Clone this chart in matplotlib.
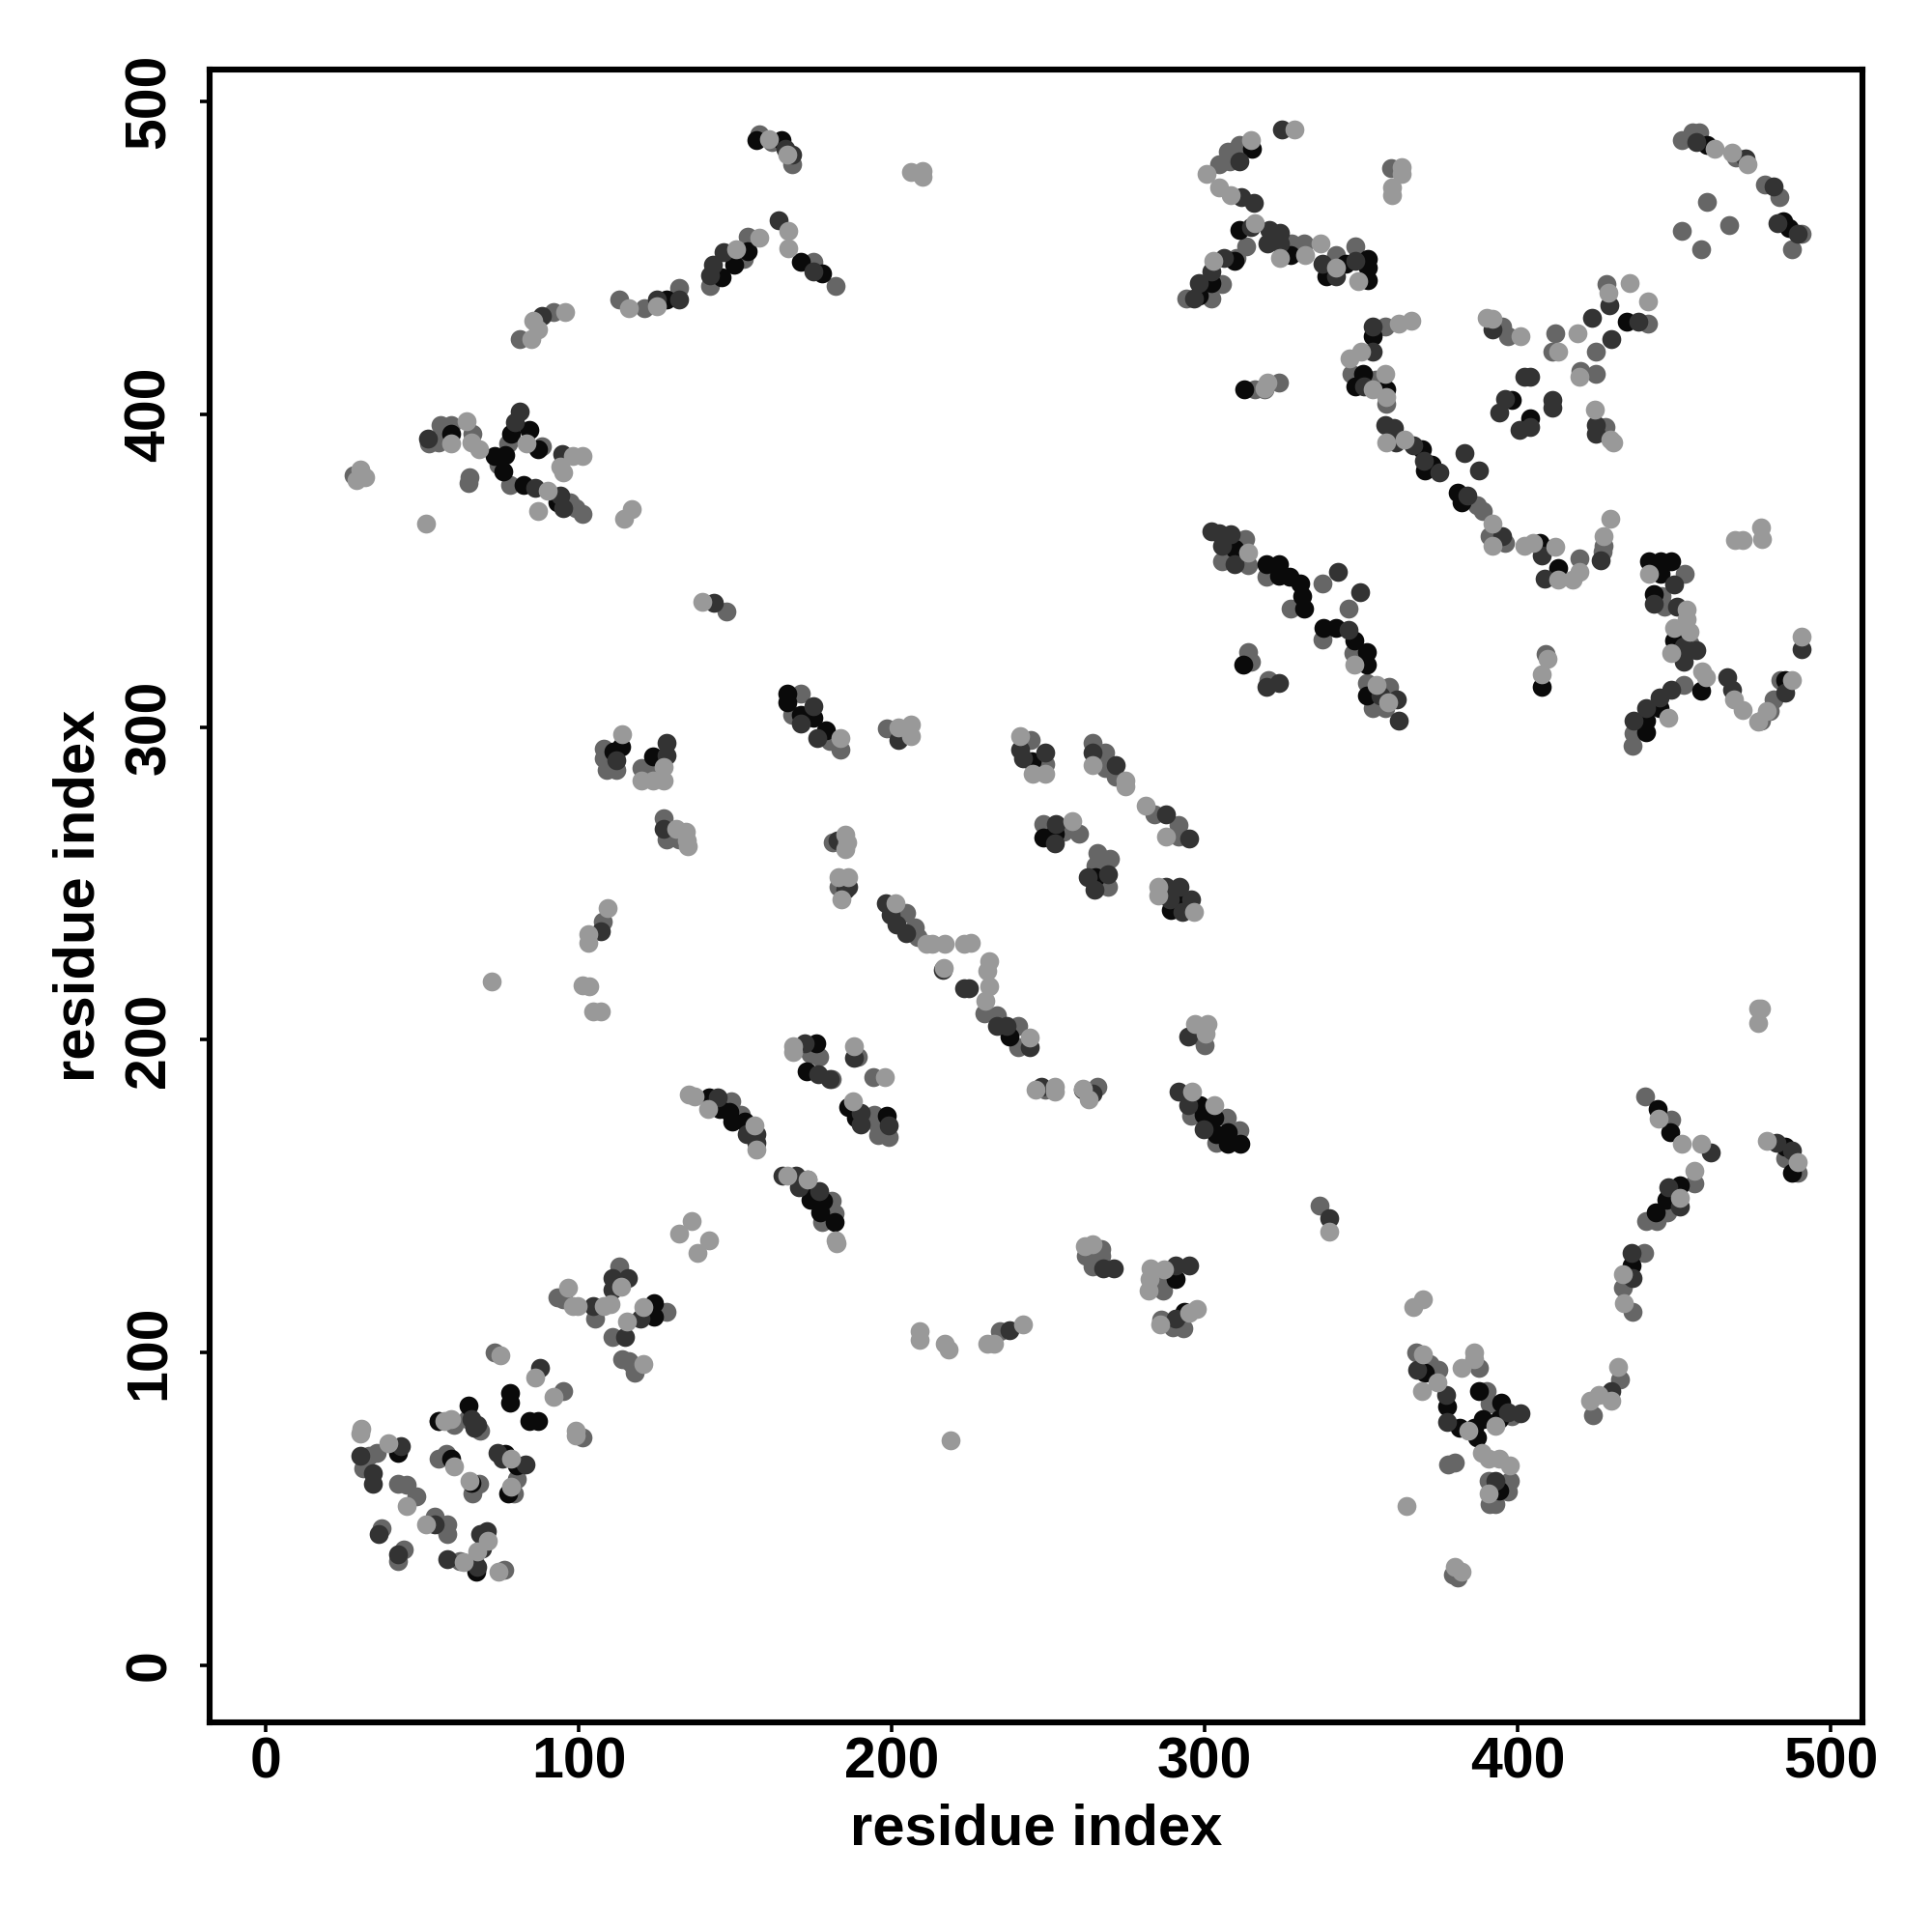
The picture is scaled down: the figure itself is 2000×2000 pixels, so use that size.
import matplotlib
matplotlib.use("Agg")
import matplotlib.pyplot as plt

# contacts as (residue i, residue j), one list per grey level
light = [(30.5,75.8),(30,74),(39,71),(45,51),(51,45),(63,33),(67.5,36.4),(71,40),(74.4,30),(57,78),(59,78.7),
    (60,63.6),(65,59),(78.4,66),(78.4,57),(86,92),(92,86),(75,99),(99,75),(99,73.4),(96.5,120.7),(98,115),(99.6,115),
    (108,115),(110,115.5),(113.4,121),(115.4,110),(120.7,114.6),(120.7,96.5),(132,138),(136,142),(138,132),(141.7,136),
    (135,182.5),(137,182),(141.3,178),(156,172.6),(156.7,165),(166.5,156.5),(173,155.5),(182,136),(182.3,135),
    (168.5,198),(168.5,196),(187.8,198),(197.7,188),(187.6,180.5),(72,218.7),(101,217.5),(103.4,217),(104.4,209),(107,209),
    (209,107),(209,104),(217,103),(218,101),(218.8,72),(230.6,222),(231,217),(230,212.6),(244,200.8),(246,184),(252,185),
    (252,183.5),(261,184.5),(263,181),(296,183.5),(302.9,179),(297,205),(301,205),(300.3,202),(339.9,138.8),(261.7,134),
    (264,134.8),(282.8,127),(287,126.6),(282.4,123.6),(282,119.7),(297.6,114),(285.7,109),(295,112.6),(232.6,102.8),
    (230.6,103),(241.8,109),(366.7,114.6),(369.6,117),(364.5,51),(380,31.5),(382,30),(369.7,99.4),(369.4,87.6),(374.4,90.5),
    (384.3,75),(393,76.7),(382,95),(386,100),(386,98),(388.7,68),(390.7,66),(394,66),(397.6,64),(390.7,55),(423,84.6),
    (426,86.6),(430,84.6),(432,95.5),(433.8,115.7),(433.5,125),(452,149.6),(456.5,158),(445,174.8),(452.6,166.7),
    (458.5,166.7),(476.8,210),(477.8,210),(477,205.5),(479.7,167.7),(489.5,161),(29,379),(30,382.4),(31.5,380),(51,365),
    (59,390.7),(64,397.8),(65.6,391),(68,388.7),(83.3,390.7),(94,383.2),(95,381.4),(98,386.8),(101,386.8),(90,375.4),
    (87,369),(114.4,366.5),(117,369.8),(139.4,340),(84.7,424),(85.3,430),(87,427),(95.5,432.7),(116,433.8),(124.8,434.4),
    (157.5,456.5),(167,458.6),(167,453),(150.3,452.7),(160.7,488),(166.6,483),(206,477.4),(209.7,477.7),(209.7,475.8),
    (113.8,297.8),(127,287.3),(119.8,283),(123.7,282.8),(127,282.8),(131,267.6),(134,266.6),(134.5,263.7),(134.9,262),
    (185,265.7),(185.7,263),(185,261),(183,252),(186,252),(184,245),(183.7,296.4),(202,300),(206,300.7),(206,297.2),(109,242),
    (103,233.8),(103,231),(201,243.6),(211,230.8),(213,230.8),(217,230.8),(223,230.8),(225.3,231),(231,225),(216.5,223),
    (241,297),(245,285),(249,285),(264,288),(274.5,282.8),(274.5,281),(281,275),(287.7,265),(257.6,270),(285,249),(285,246),
    (296.6,241),(328.8,491),(314.7,487.6),(300.5,477),(304.5,472.4),(308.4,470),(316,461),(302.6,449),(324,450),(332,450.8),
    (337,454.7),(341.9,446.8),(349,442.5),(363,479),(363,477),(359.8,472.4),(359.8,470),(366,430),(362,429),(350,420),
    (346.3,418),(357.6,413),(353.7,408),(358,405.5),(319,408.4),(320,410),(358,391),(364,392),(392,365),(392,358),(402,358),
    (405,359),(412,357.5),(413,347),(417.7,347),(419.6,349.6),(427.4,361),(429.5,366.7),(390,430.7),(392,430.5),(401,425),
    (419,426),(413,420),(419.6,412),(424.6,401.5),(430.5,391),(429.5,392),(429,439),(435.7,442),(441.6,436),(463,485),
    (468.5,483.6),(473.4,480),(313.7,355.9),(347.7,320),(355,313.5),(358.6,308),(409.6,321.8),(407.8,317),(469.5,359.8),
    (472,359.8),(477.8,363.7),(478.2,360),(442,349),(454,337.5),(454,334.6),(450,331.7),(455,330.6),(449,323.7),(459,317.8),
    (460.1,315.9),(448,303),(469,309),(472,305.6),(476.8,301.7),(479.7,305),(487.6,315),(490.6,329)]

mid = [(33,67),(35.4,68),(31,63),(42,58),(45,57.7),(48,54),(37,44),(42,33.5),(44,37),(54,47.6),(55,45),(58,45),(58,42),
    (62,33.5),(66.5,33.5),(76,30.5),(55,78),(60,77),(64.5,78.7),(68.5,75),(55,66),(57.7,67.5),(66,55),(68,58),(79.3,55),
    (80,59.5),(95,87.6),(73,100),(101,73),(93,117.7),(95,117),(105,111),(113,127.5),(110.8,105),(128,113),(113.8,98),
    (115.8,97.4),(117.7,93.5),(117.3,96),(148.6,180.5),(151.8,176),(173,155.5),(180.7,148.6),(181.7,144.7),(177.8,141.7),
    (174,195.5),(176.8,194.6),(180.7,187.6),(189,194.6),(194,188),(194.5,176),(195.5,172.6),(195.5,169.5),(199,169),
    (229.6,208.6),(233.6,208),(240.5,204.6),(240.5,197.6),(249,184),(265.7,185),(295.6,175.6),(307,175),(303.6,167),
    (311,171),(296.6,201.7),(300,198.4),(336.7,147),(267,133),(262,131),(267,131),(264,127.5),(286.7,123.6),(286.7,119.7),
    (286,110.6),(289.7,108),(293,107.7),(234.5,107),(379.4,29),(380.7,28),(367.5,100),(371.8,96.5),(374.8,94.5),(390,87.6),
    (391,83.6),(398,79.7),(387.7,95),(397.4,59),(390.7,59),(397,55.7),(391,51.6),(393,51.7),(377.7,64.4),(380,65),(424,80),
    (432.8,91.5),(436.6,113),(433.5,120.7),(440.4,131.8),(440.9,142),(444.3,142),(447.8,145),(456.5,154),(440.7,182),
    (449,174.6),(489.5,157.5),(485.6,162),(28,380.5),(52,390.7),(55.7,396.6),(55,391),(59,396.6),(66,393.7),(65,380),
    (64.6,378),(77.4,390.7),(74.4,383.8),(78,377.3),(88,389.7),(97,372),(99,370),(101,368),(147,337),(81,424),(91.8,432.7),
    (113,436.8),(121,433.8),(132,440.5),(142,441),(152.8,449.8),(154,456.7),(175,448.8),(182,441),(157.5,489.6),(161.7,487),
    (168,480),(108,293),(108,290),(108.9,286.4),(111.9,286.4),(110.3,287.3),(119.8,287),(124,286.4),(127,271),(128,264),
    (132,264),(181,263),(183,249),(171,310.6),(168,304),(180,295.6),(183.7,292.8),(198.5,299.7),(107.6,237.7),(204.4,240.6),
    (207.4,236),(208.4,233),(244.4,296),(249,288.3),(264,295),(268,292),(268,287),(271.6,284),(283.8,272),(291.6,268.6),
    (291.6,265),(248.3,269),(255,266.6),(259.8,266),(265.7,259.7),(269.6,258),(265,255.8),(269,249),(311,486),(308,481),
    (304.5,480),(307.4,484),(313.3,453.7),(310,450),(305.5,441.5),(302,437),(294,437),(327.8,454.7),(331.6,454.7),
    (341.9,450.8),(348,453.7),(359.6,478.7),(357.6,428),(347,413),(354.7,411),(358,403.5),(316,408),(319,408),(323.6,410),
    (387,371),(389,369),(391,361),(396.1,359),(419.6,354),(427,356),(427.4,358),(395,428),(397,425),(412,426),(425,420),
    (411,420),(420,414),(425,413),(428,396),(428.5,441.5),(441.7,429),(452.6,487.8),(456,490),(458,490),(469.8,482),
    (479,473.4),(483.6,469.5),(490.6,457.7),(487.6,452.7),(460.6,467.9),(467.5,460.6),(452.6,458.6),(458.5,452.7),(313,360),
    (305.5,353),(313.9,351.7),(319.6,348),(327.5,338),(337.5,346),(345.8,338),(337.5,328),(347.5,323.7),(313.7,324),
    (314.7,320.8),(320.2,315),(351.7,314),(359,313),(353.7,306),(357.6,306),(409,323.4),(453.5,349),(446,342),(447,338.5),
    (455,326.7),(453,313.6),(437,298),(436.7,294),(477.8,302),(481.7,309),(480.7,305),(483.9,315)]

dark = [(30,67),(43,70),(34,61.6),(34,58),(36,42),(42,35.5),(54,45),(58,34),(67.5,31.5),(69,37.4),(68.5,42),(70.5,43),
    (65.6,78.7),(66.5,76),(67.5,77),(74,68),(75.4,66),(83,64.4),(87.6,95),(104.5,115),(110.8,124),(115.7,124),(110.8,120),
    (114.8,105),(119.7,111),(144.3,181.7),(156.7,170),(153.5,170),(156.7,167),(165,156.5),(169.5,156.5),(170.3,153),
    (176.8,151.6),(172,199),(176.4,189),(180.3,187.4),(188,194.3),(190,176.6),(190,173),(199,172.6),(224.7,216.5),(233.6,204.6),
    (236.6,204.6),(244,197.6),(247.7,185),(264,182.7),(261,184),(291.7,183.5),(294.6,179),(299.5,171.4),(294.6,201),
    (339.9,143),(267.4,127),(271,127),(290.7,128),(295,128),(290.7,111),(237.5,107.3),(368,94.5),(377,86.6),(377.4,77.7),
    (397,81),(400.9,80.7),(393,59),(430,87.6),(436.6,124),(436.4,131.8),(448.2,153),(451.8,146.6),(461.6,164),(482.6,167),
    (487.6,164.6),(51.8,392.3),(81,401),(79.4,397.6),(86,376.5),(94.7,387.4),(94,374),(95,370),(143,339.7),(88,431.5),
    (124.8,436.6),(132,436.6),(141.8,444.5),(142.8,447.8),(146.3,451.8),(163.8,462),(175,445.8),(166,485),(168,483),
    (111.9,289.3),(128,295),(128,291),(127.2,267.6),(182.6,263.7),(185,248),(186,249),(171,301),(175,306.6),(176,296.6),(202,296),
    (107,234.7),(198,243.6),(199.5,240),(201.5,237),(204.4,234),(216.2,222.5),(223,216.6),(241,292.7),(249,292),(242,290),
    (264,292),(271.6,287.9),(287.7,272),(295,264.3),(252.3,269),(252,262.7),(269,253),(262.5,252),(264.7,248),(287.6,249),
    (292,249),(288.7,245),(295.6,245),(292.7,241),(324.6,491),(311,481),(311.8,469.5),(315.7,467.5),(314.9,460),(320.6,459),
    (324,458),(306,450),(302,445.8),(298,442),(296.6,437),(320,454.7),(324,454.7),(337.5,448),(342,444),(348,449),(353.7,428),
    (353.7,420),(351,409),(357.6,396.6),(360.6,395.6),(361,391),(366.6,390),(370,385),(375,381.5),(382.9,387.7),(387.7,382),
    (383.8,374),(395,361),(407.6,355),(408.7,347.4),(426.6,353.3),(423.6,430.7),(430,424),(392,427),(402,412),(404,412),
    (396,405),(394,400.5),(411,404.5),(411,402),(400.6,395),(404,396),(424.9,396.6),(425,393.7),(429.4,435),(438.5,429.5),
    (457,487),(472.8,481.7),(481.7,472.8),(483,461),(489.5,457.7),(302,362.5),(304.5,362),(308.4,361.8),(305.5,358),(309.4,352),
    (342.6,349.5),(349.8,343),(345.8,331.2),(323.7,314),(319.6,313),(356,310),(361.3,309),(362,302),(450,345.6),(443.4,339.5),
    (451,338.5),(453,325.7),(457,324.7),(453,320.8),(449,312),(445.5,309.6),(441,306),(437,302),(467,316),(468.6,312),
    (485.6,311),(490.6,325)]

black = [(42,68),(67,30),(55,78),(64.6,83),(59,66),(65.6,58.5),(76.4,67.5),(80,64),(77.4,55),(78,87),(78,84),(84,78),(87,78),
    (124,115.7),(124,111.6),(141.7,181.7),(145,178),(148,177),(149,174),(153,174),(173.4,152.6),(174,149),(178,148.6),
    (177,145),(181.7,141.7),(175.8,199),(172.8,190),(186,178.6),(188.6,175),(198.5,175.6),(237.5,201),(298.5,179),(299.5,176),
    (302.9,175),(303.6,170),(307.4,170.6),(307.4,166.7),(311.3,166.7),(290.7,123.6),(293.6,113),(370.4,93.5),(377.4,82.7),
    (381.3,76),(387,73),(386,76),(389,78.7),(387.5,87.6),(394.6,84),(394,78.7),(394,56),(436.4,128),(444,145),(447.6,149),
    (451.8,153.5),(444.7,177.8),(448.7,170.6),(485.6,166),(487.6,157.5),(78.4,393.7),(84,395),(59,393.7),(76.4,387),(73,386.8),
    (75.8,381.8),(82.3,377.3),(87,388.7),(93,372),(128,436.6),(145.7,443.9),(149.7,447.8),(154,452),(171,448.8),(177.8,444.9),
    (156.8,487.6),(164.6,487.6),(113.4,293.8),(110.9,292.2),(123.7,290.7),(166.6,310.6),(166.6,308),(171,304),(175,303),(179,299),
    (244.8,289),(248.3,264.7),(252,266),(265,252),(292.7,244.5),(289,241.4),(315,485),(311,459),(309.4,449),(302,442),(298,438),
    (327.5,451),(345,448),(339,444),(352,449.8),(352,447),(352,443),(353.7,425),(348,409),(350.6,413),(358,408),(312.5,408),
    (369.5,388.7),(370.4,382),(372.4,384),(380.8,375),(382,372),(407,359),(413,351),(398,404.7),(404,398.6),(435,429.5),
    (460.6,486),(485,461.6),(486.6,459.6),(309.4,357),(319.6,352),(323.6,352),(323.6,348.4),(327,348),(330.5,346),(331,341.8),
    (331.6,338),(338,331.6),(342,331.6),(347.8,327.7),(351.7,324),(351.7,320),(312.3,320),(351.7,310),(407.8,313),(442,353),
    (445.6,353),(449,353),(445.6,349),(443.4,342.4),(450,327.7),(458.6,311.5),(441,302),(441,298.5),(445.5,306),(485.6,315)]

ticks = [0, 100, 200, 300, 400, 500]
axis_label = "residue index"

plt.rcParams["font.family"] = ["Liberation Sans", "DejaVu Sans"]
plt.rcParams["font.weight"] = "bold"

fig = plt.figure(figsize=(20, 20), dpi=100)
ax = fig.add_axes([217 / 2000, 1 - 1783 / 2000, (1928 - 217) / 2000, (1783 - 72) / 2000])

# grey levels drawn in this order so the light dots stay visible
for pts, col in [(mid, "#666666"), (black, "#0a0a0a"), (dark, "#333333"), (light, "#999999")]:
    ax.scatter([p[0] for p in pts], [p[1] for p in pts], s=200, c=col, linewidths=0, zorder=3)

ax.set_xlim(-18.06, 510.2)
ax.set_ylim(-18.2, 510.2)
ax.set_xticks(ticks)
ax.set_yticks(ticks)
ax.set_yticklabels(ticks, rotation=90, va="center")
ax.tick_params(length=7.5, width=2.6, labelsize=42.5)
ax.tick_params(axis="x", pad=3)
ax.tick_params(axis="y", pad=17)
for s in ax.spines.values():
    s.set_linewidth(4.4)

ax.set_xlabel(axis_label, fontsize=43, fontweight="bold")
ax.set_ylabel(axis_label, fontsize=43, fontweight="bold")
ax.xaxis.set_label_coords(0.5, -0.049)
ax.yaxis.set_label_coords(-0.063, 0.5)

plt.savefig("out.png", dpi=100)
